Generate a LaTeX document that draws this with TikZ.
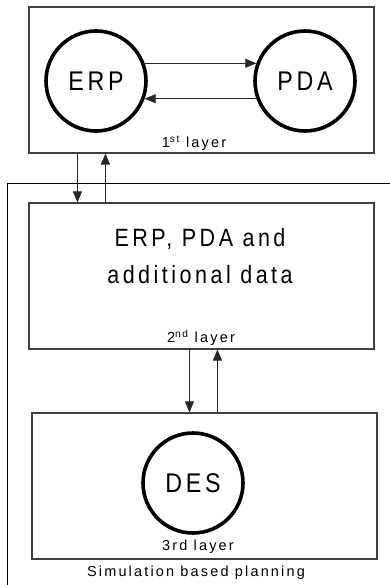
\documentclass[tikz,border=0pt]{standalone}
\usepackage{fontspec}
\setmainfont{Liberation Sans}[LetterSpace=15]
\newfontfamily\narrowfont{Liberation Sans}[LetterSpace=14,FakeStretch=0.86]
\usetikzlibrary{arrows.meta,calc}
\begin{document}
\begin{tikzpicture}[x=1pt,y=-1pt,
  layerbox/.style={draw=black!75,line width=1.1pt,minimum width=345pt,minimum height=146pt,inner sep=0pt},
  actor/.style={circle,draw=black,line width=3.6pt,minimum size=100pt,inner sep=0pt,font=\narrowfont\fontsize{27}{30}\selectfont},
  flow/.style={draw=black!85,line width=0.8pt,-{Triangle[length=11pt,width=9pt]}},
  caption/.style={inner sep=0pt,font=\fontsize{14.5}{17}\selectfont}]
\useasboundingbox (0,0) rectangle (390,585);
% outer frame (cropped at right and bottom)
\coordinate (o1) at (391,184);
\coordinate (o2) at (7,184);
\coordinate (o3) at (7,586);
\draw[line width=1pt] (o1) -- (o2) -- (o3);
% layer boxes
\node[layerbox] (box1) at (201.5,80) {};
\node[layerbox] (box2) at (201.5,276) {};
\node[layerbox] (box3) at (204.5,486) {};
% actors
\node[actor] (erp) at (96,81) {ERP};
\node[actor] (pda) at (305,81) {PDA};
\node[actor] (des) at (193,483) {DES};
% labels
\node[caption] (l1) at (194,143) {1\textsuperscript{st} layer};
\node[inner sep=0pt,align=center,font=\narrowfont\fontsize{25}{37}\selectfont] (txt2) at (200,256) {ERP, PDA and\\additional data};
\node[caption] (l2) at (201,338) {2\textsuperscript{nd} layer};
\node[caption] (l3) at (198,547) {3rd layer};
\node[caption] (l4) at (196,573) {Simulation based planning};
% flows inside layer 1
\draw[flow] (erp.20) -- (pda.160);
\draw[flow] (pda.-160) -- (erp.-20);
% flows between layer 1 and 2
\draw[flow] ($(box1.south west)+(49,0)$) -- ($(box2.north west)+(49,0)$);
\draw[flow] ($(box2.north west)+(77,0)$) -- ($(box1.south west)+(77,0)$);
% flows between layer 2 and 3
\draw[flow] ($(box2.south west)+(161,0)$) -- ($(box3.north west)+(158,0)$);
\draw[flow] ($(box3.north west)+(186,0)$) -- ($(box2.south west)+(189,0)$);
\end{tikzpicture}
\end{document}
